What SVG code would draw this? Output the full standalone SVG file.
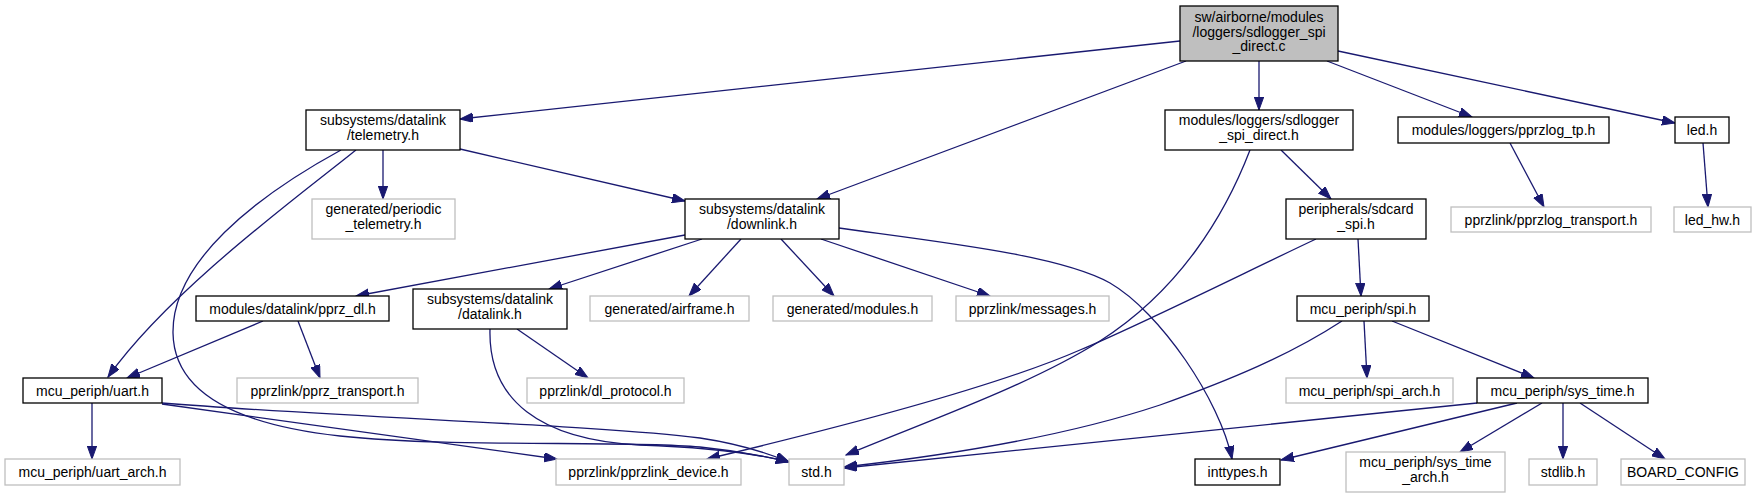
<svg xmlns="http://www.w3.org/2000/svg" width="1756" height="499" viewBox="0 0 1756 499">
<style>
text{font-family:"Liberation Sans",Arial,sans-serif;font-size:14px;fill:#000;text-anchor:middle}
.b{fill:#fff;stroke:#000;stroke-width:1.3}
.g{fill:#fff;stroke:#bfbfbf;stroke-width:1.3}
.m{fill:#bfbfbf;stroke:#000;stroke-width:1.3}
#edges path{fill:none;stroke:#191970;stroke-width:1.3;marker-end:url(#ah)}
</style>
<defs>
<marker id="ah" markerUnits="userSpaceOnUse" markerWidth="14" markerHeight="10" refX="13" refY="4.7" orient="auto">
<path d="M0,0 L13,4.7 L0,9.4 z" fill="#191970" stroke="#191970" stroke-width="1"/>
</marker>
</defs>
<rect width="1756" height="499" fill="#fff"/>
<g id="edges">
<path d="M1180,41 L460,119"/>
<path d="M1186,61 L817,199"/>
<path d="M1259,61 L1259,110"/>
<path d="M1327,61 L1472,117"/>
<path d="M1338,51 L1675,123"/>
<path d="M383,150 L383,199"/>
<path d="M460,149 L685,201"/>
<path d="M356,150 C300,195 170,290 108,377"/>
<path d="M341,150 C255,197 172,262 173,333 C174,395 240,425 340,436 C450,448 620,440 700,447 C730,450 760,455 789,462"/>
<path d="M490,329 C488,400 540,440 640,445 C700,447 750,452 789,462"/>
<path d="M162,403 C350,418 600,425 700,438 C740,444 765,452 789,462"/>
<path d="M162,404 L557,459"/>
<path d="M685,235 L356,296"/>
<path d="M702,239 L549,289"/>
<path d="M741,239 L689,296"/>
<path d="M781,239 L834,296"/>
<path d="M821,239 L990,296"/>
<path d="M839,228 C940,242 1060,255 1110,283 C1160,312 1220,400 1232,459"/>
<path d="M1281,150 L1331,199"/>
<path d="M1250,150 C1225,215 1180,290 1100,341 C1030,385 930,420 846,455"/>
<path d="M1316,239 C1250,270 1140,325 1080,350 C1000,385 850,425 707,459"/>
<path d="M1358,239 L1361,296"/>
<path d="M1342,321 C1290,355 1230,380 1160,405 C1070,435 950,455 844,467"/>
<path d="M1364,321 L1367,378"/>
<path d="M1392,321 L1534,378"/>
<path d="M1477,403 L844,468"/>
<path d="M1517,403 L1281,460"/>
<path d="M1542,403 L1460,452"/>
<path d="M1563,403 L1563,459"/>
<path d="M1580,403 L1665,459"/>
<path d="M1510,143 L1544,207"/>
<path d="M1703,143 L1708,207"/>
<path d="M263,321 L127,378"/>
<path d="M298,321 L320,378"/>
<path d="M517,329 L588,378"/>
<path d="M92,403 L92,459"/>
</g>
<g id="n_main"><rect class="m" x="1180" y="6" width="158" height="55"/><text x="1259" y="22">sw/airborne/modules</text><text x="1259" y="36.5">/loggers/sdlogger_spi</text><text x="1259" y="51">_direct.c</text></g>
<g id="n_telemetry"><rect class="b" x="306" y="110" width="154" height="40"/><text x="383" y="125">subsystems/datalink</text><text x="383" y="139.5">/telemetry.h</text></g>
<g id="n_periodic"><rect class="g" x="312" y="199" width="143" height="40"/><text x="383.5" y="214">generated/periodic</text><text x="383.5" y="228.5">_telemetry.h</text></g>
<g id="n_downlink"><rect class="b" x="685" y="199" width="154" height="40"/><text x="762" y="214">subsystems/datalink</text><text x="762" y="228.5">/downlink.h</text></g>
<g id="n_sdlogger_h"><rect class="b" x="1165" y="110" width="188" height="40"/><text x="1259" y="125">modules/loggers/sdlogger</text><text x="1259" y="139.5">_spi_direct.h</text></g>
<g id="n_pprzlog_tp"><rect class="b" x="1398" y="117" width="211" height="26"/><text x="1503.5" y="135">modules/loggers/pprzlog_tp.h</text></g>
<g id="n_led"><rect class="b" x="1675" y="117" width="54" height="26"/><text x="1702" y="135">led.h</text></g>
<g id="n_sdcard"><rect class="b" x="1286" y="199" width="140" height="40"/><text x="1356" y="214">peripherals/sdcard</text><text x="1356" y="228.5">_spi.h</text></g>
<g id="n_pprzlog_transport"><rect class="g" x="1451" y="207" width="200" height="25"/><text x="1551" y="224.5">pprzlink/pprzlog_transport.h</text></g>
<g id="n_led_hw"><rect class="g" x="1674" y="207" width="77" height="25"/><text x="1712.5" y="224.5">led_hw.h</text></g>
<g id="n_pprz_dl"><rect class="b" x="196" y="296" width="193" height="25"/><text x="292.5" y="313.5">modules/datalink/pprz_dl.h</text></g>
<g id="n_datalink"><rect class="b" x="413" y="289" width="154" height="40"/><text x="490" y="304">subsystems/datalink</text><text x="490" y="318.5">/datalink.h</text></g>
<g id="n_airframe"><rect class="g" x="590" y="296" width="159" height="25"/><text x="669.5" y="313.5">generated/airframe.h</text></g>
<g id="n_modules"><rect class="g" x="773" y="296" width="159" height="25"/><text x="852.5" y="313.5">generated/modules.h</text></g>
<g id="n_messages"><rect class="g" x="956" y="296" width="153" height="25"/><text x="1032.5" y="313.5">pprzlink/messages.h</text></g>
<g id="n_uart"><rect class="b" x="23" y="378" width="139" height="25"/><text x="92.5" y="395.5">mcu_periph/uart.h</text></g>
<g id="n_pprz_transport"><rect class="g" x="237" y="378" width="181" height="25"/><text x="327.5" y="395.5">pprzlink/pprz_transport.h</text></g>
<g id="n_dl_protocol"><rect class="g" x="527" y="378" width="157" height="25"/><text x="605.5" y="395.5">pprzlink/dl_protocol.h</text></g>
<g id="n_spi"><rect class="b" x="1297" y="296" width="132" height="25"/><text x="1363" y="313.5">mcu_periph/spi.h</text></g>
<g id="n_spi_arch"><rect class="g" x="1286" y="378" width="167" height="25"/><text x="1369.5" y="395.5">mcu_periph/spi_arch.h</text></g>
<g id="n_sys_time"><rect class="b" x="1477" y="378" width="171" height="25"/><text x="1562.5" y="395.5">mcu_periph/sys_time.h</text></g>
<g id="n_uart_arch"><rect class="g" x="5" y="459" width="175" height="26"/><text x="92.5" y="477">mcu_periph/uart_arch.h</text></g>
<g id="n_pprzlink_device"><rect class="g" x="556" y="459" width="185" height="26"/><text x="648.5" y="477">pprzlink/pprzlink_device.h</text></g>
<g id="n_std"><rect class="g" x="789" y="459" width="55" height="26"/><text x="816.5" y="477">std.h</text></g>
<g id="n_inttypes"><rect class="b" x="1195" y="459" width="85" height="26"/><text x="1237.5" y="477">inttypes.h</text></g>
<g id="n_sys_time_arch"><rect class="g" x="1346" y="452" width="159" height="40"/><text x="1425.5" y="467">mcu_periph/sys_time</text><text x="1425.5" y="481.5">_arch.h</text></g>
<g id="n_stdlib"><rect class="g" x="1529" y="459" width="68" height="26"/><text x="1563" y="477">stdlib.h</text></g>
<g id="n_board_config"><rect class="g" x="1621" y="459" width="124" height="26"/><text x="1683" y="477">BOARD_CONFIG</text></g>
</svg>
